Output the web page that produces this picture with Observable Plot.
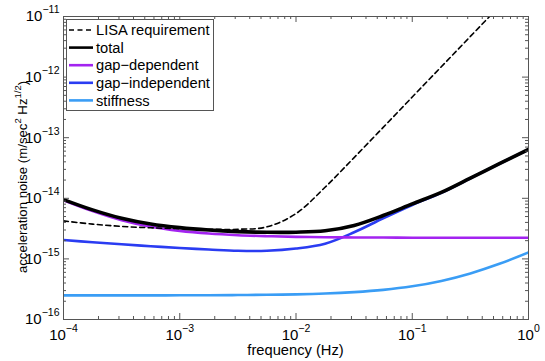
<!DOCTYPE html>
<html>
<head>
<meta charset="utf-8">
<script src="https://cdn.jsdelivr.net/npm/d3@7"></script>
<script src="https://cdn.jsdelivr.net/npm/@observablehq/plot@0.6"></script>
<style>
html, body { margin: 0; padding: 0; background: #fff; }
#chart { width: 545px; height: 361px; position: relative; }
svg { overflow: visible; }
</style>
</head>
<body>
<div id="chart"></div>
<script>
// ---- data ----
const freq = [1e-4, 1.778e-4, 3.162e-4, 5.623e-4, 1e-3, 1.778e-3, 3.162e-3, 5.623e-3, 1e-2,
              1.778e-2, 3.162e-2, 5.623e-2, 0.1, 0.1778, 0.3162, 0.5623, 1];
const lisa      = [4.24e-15, 3.75e-15, 3.44e-15, 3.26e-15, 3.15e-15, 3.09e-15, 3.08e-15, 3.38e-15, 5.59e-15,
                   1.52e-14, 4.70e-14, 1.48e-13, 4.69e-13, 1.48e-12, 4.69e-12, 1.48e-11, 4.69e-11];
const total     = [9.53e-15, 6.44e-15, 4.69e-15, 3.77e-15, 3.28e-15, 2.99e-15, 2.82e-15, 2.75e-15, 2.76e-15,
                   2.91e-15, 3.57e-15, 5.20e-15, 8.08e-15, 1.25e-14, 2.15e-14, 3.73e-14, 6.40e-14];
const gapDep    = [9.30e-15, 6.15e-15, 4.35e-15, 3.40e-15, 2.90e-15, 2.62e-15, 2.46e-15, 2.37e-15, 2.31e-15,
                   2.28e-15, 2.26e-15, 2.25e-15, 2.24e-15, 2.24e-15, 2.24e-15, 2.24e-15, 2.24e-15];
const gapIndep  = [2.05e-15, 1.88e-15, 1.74e-15, 1.62e-15, 1.51e-15, 1.43e-15, 1.36e-15, 1.36e-15, 1.48e-15,
                   1.78e-15, 2.75e-15, 4.68e-15, 7.76e-15, 1.23e-14, 2.14e-14, 3.72e-14, 6.40e-14];
const stiffness = [2.50e-16, 2.50e-16, 2.50e-16, 2.50e-16, 2.51e-16, 2.52e-16, 2.53e-16, 2.56e-16, 2.60e-16,
                   2.68e-16, 2.83e-16, 3.08e-16, 3.53e-16, 4.33e-16, 5.76e-16, 8.29e-16, 1.28e-15];
const seriesNames = ["LISA requirement", "total", "gap\u2212dependent", "gap\u2212independent", "stiffness"];
const xMajor = [1e-4, 1e-3, 1e-2, 1e-1, 1];
const xTickExp = ["\u22124", "\u22123", "\u22122", "\u22121", "0"];
const yMajor = [1e-16, 1e-15, 1e-14, 1e-13, 1e-12, 1e-11];
const yTickExp = ["\u221216", "\u221215", "\u221214", "\u221213", "\u221212", "\u221211"];
const xTitle = "frequency (Hz)";

// ---- styles / layout ----
const W = 545, H = 361, mL = 63, mR = 17, mT = 16, mB = 42;
const iw = W - mL - mR, ih = H - mT - mB;
const FONT = "'Liberation Sans', Arial, Helvetica, sans-serif";
const axisColor = "#555";
const styles = [
  {stroke: "#000", width: 1.6, dash: "5,3.5"},   // LISA
  {stroke: "#000", width: 3.6, dash: null},      // total
  {stroke: "#A324F0", width: 2.6, dash: null},   // gap-dependent
  {stroke: "#2A3CF2", width: 2.6, dash: null},   // gap-independent
  {stroke: "#3A9DF5", width: 2.6, dash: null}    // stiffness
];
const values = [lisa, total, gapDep, gapIndep, stiffness];
const drawOrder = [4, 3, 2, 1, 0];

const xMinor = [];
for (let k = -4; k < 0; k++) for (let m = 2; m <= 9; m++) xMinor.push(m * Math.pow(10, k));
const yMinor = [];
for (let k = -16; k < -11; k++) for (let m = 2; m <= 9; m++) yMinor.push(m * Math.pow(10, k));

const lineMarks = drawOrder.map(i => Plot.line(
  freq.map((f, j) => ({f, v: values[i][j], s: seriesNames[i]})),
  {x: "f", y: "v", stroke: styles[i].stroke, strokeWidth: styles[i].width,
   strokeDasharray: styles[i].dash, curve: "catmull-rom", clip: true}
));

const chart = Plot.plot({
  width: W, height: H,
  marginLeft: mL, marginRight: mR, marginTop: mT, marginBottom: mB,
  style: {fontFamily: FONT, fontSize: "14.7px", color: "#000", background: "#fff"},
  x: {type: "log", domain: [1e-4, 1]},
  y: {type: "log", domain: [1e-16, 1e-11]},
  marks: [
    ...lineMarks,
    // ticks inward on all sides
    Plot.tickX(xMajor, {x: d => d, insetTop: ih - 6, stroke: axisColor}),
    Plot.tickX(xMinor, {x: d => d, insetTop: ih - 3, stroke: axisColor}),
    Plot.tickX(xMajor, {x: d => d, insetBottom: ih - 6, stroke: axisColor}),
    Plot.tickX(xMinor, {x: d => d, insetBottom: ih - 3, stroke: axisColor}),
    Plot.tickY(yMajor, {y: d => d, insetRight: iw - 6, stroke: axisColor}),
    Plot.tickY(yMinor, {y: d => d, insetRight: iw - 3, stroke: axisColor}),
    Plot.tickY(yMajor, {y: d => d, insetLeft: iw - 6, stroke: axisColor}),
    Plot.tickY(yMinor, {y: d => d, insetLeft: iw - 3, stroke: axisColor}),
    Plot.frame({stroke: axisColor, strokeWidth: 1}),
    Plot.axisX(xMajor, {tickSize: 0, tickPadding: 10, label: null,
      tickFormat: d => xTickExp[xMajor.indexOf(d)], fontSize: 15}),
    Plot.axisY(yMajor, {tickSize: 0, tickPadding: 4, label: null,
      tickFormat: d => yTickExp[yMajor.indexOf(d)], fontSize: 15})
  ]
});
document.getElementById("chart").append(chart);
const svg = d3.select(chart);

// superscript tick labels: 10^n
function supify(sel) {
  sel.each(function() {
    const t = d3.select(this);
    const e = t.text();
    t.text(null);
    t.append("tspan").text("10");
    t.append("tspan").attr("dy", "-8").attr("font-size", "10.5px").text(e);
  });
}
supify(svg.selectAll('g[aria-label="x-axis tick label"] text'));
supify(svg.selectAll('g[aria-label="y-axis tick label"] text'));

// axis titles
svg.append("text")
  .attr("x", mL + iw / 2).attr("y", 355)
  .attr("text-anchor", "middle").attr("font-family", FONT).attr("font-size", "14.7px")
  .attr("fill", "#000").text(xTitle);

const yt = svg.append("text")
  .attr("transform", `translate(27,177) rotate(-90)`)
  .attr("text-anchor", "middle").attr("font-family", FONT).attr("font-size", "13.2px").attr("fill", "#000");
yt.append("tspan").text("acceleration noise (m/sec");
yt.append("tspan").attr("dy", "-6").attr("font-size", "9.5px").text("2");
yt.append("tspan").attr("dy", "6").text(" Hz");
yt.append("tspan").attr("dy", "-6").attr("font-size", "9.5px").text("1/2");
yt.append("tspan").attr("dy", "6").text(")");

// legend (inside the axes, top-left)
const lg = svg.append("g").attr("font-family", FONT).attr("font-size", "14.7px").attr("text-anchor", "start");
lg.append("rect").attr("x", 66.5).attr("y", 19.5).attr("width", 147).attr("height", 91)
  .attr("fill", "#fff").attr("stroke", axisColor).attr("stroke-width", 1);
seriesNames.forEach((name, i) => {
  const cy = 30 + i * 17.6;
  lg.append("line").attr("x1", 69).attr("x2", 93).attr("y1", cy).attr("y2", cy)
    .attr("stroke", styles[i].stroke).attr("stroke-width", i === 1 ? 2.6 : styles[i].width)
    .attr("stroke-dasharray", styles[i].dash);
  lg.append("text").attr("x", 96).attr("y", cy + 5.2).attr("text-anchor", "start")
    .attr("fill", "#000").text(name);
});
</script>
</body>
</html>
